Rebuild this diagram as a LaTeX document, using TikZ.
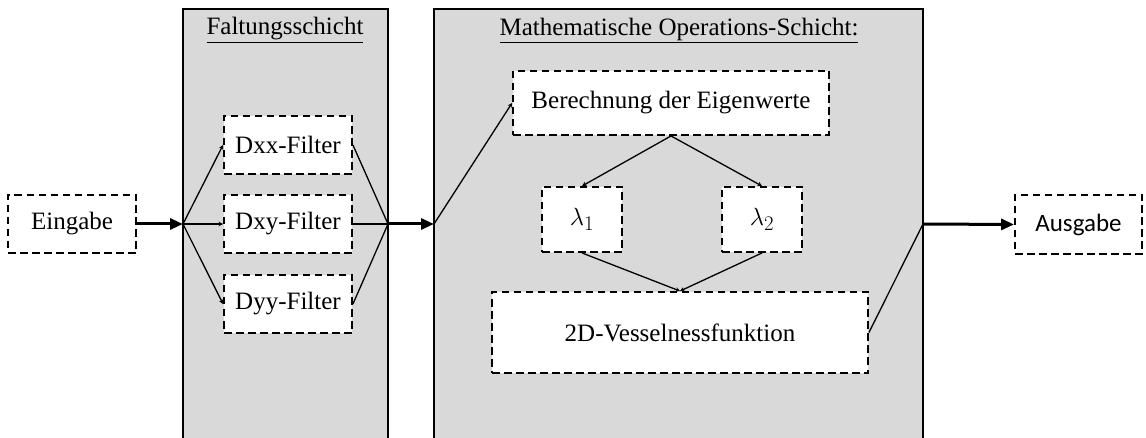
\documentclass[tikz,border=0pt]{standalone}
\usepackage{fontspec}
\setmainfont{Liberation Serif}
\newfontfamily\calfont{Carlito}
\usetikzlibrary{arrows.meta}
\definecolor{panelgray}{HTML}{D9D9D9}
\tikzset{
  panel/.style={draw=black, line width=2pt, fill=panelgray},
  dbox/.style={draw=black, line width=1.9pt, dash pattern=on 7.5pt off 4.5pt, fill=white, inner sep=0pt, font=\fontsize{25}{28}\selectfont},
  thickarrow/.style={line width=3pt, -{Triangle[length=13pt,width=11pt]}},
  thinarrow/.style={line width=1.3pt, -{Stealth[length=4.5pt,width=4.5pt]}},
  thinline/.style={line width=1.3pt},
  ptitle/.style={font=\fontsize{25}{28}\selectfont, inner sep=0pt}
}
\begin{document}
\begin{tikzpicture}[x=1pt,y=-1pt]
\useasboundingbox (0,0) rectangle (1146,438);
\clip (0,0) rectangle (1146,438);
% panels
\draw[panel] (183,9) rectangle (388,450);
\draw[panel] (434,9) rectangle (923,450);
\node[ptitle] (t1) at (285,30) {\underline{Faltungsschicht}};
\node[ptitle] (t2) at (679,30) {\underline{Mathematische Operations-Schicht:}};
% boxes
\node[dbox, minimum width=128pt, minimum height=58pt] (ein) at (72,224) {Eingabe};
\node[dbox, minimum width=128pt, minimum height=58pt] (dxx) at (288,145) {Dxx-Filter};
\node[dbox, minimum width=128pt, minimum height=58pt] (dxy) at (288,224) {Dxy-Filter};
\node[dbox, minimum width=128pt, minimum height=58pt] (dyy) at (288,304) {Dyy-Filter};
\node[dbox, minimum width=316pt, minimum height=64pt] (ber) at (671,103) {Berechnung der Eigenwerte};
\node[dbox, minimum width=80pt, minimum height=65pt] (l1) at (582,219.5) {\fontsize{28}{30}\selectfont$\lambda_1$};
\node[dbox, minimum width=80pt, minimum height=65pt] (l2) at (762,219.5) {\fontsize{28}{30}\selectfont$\lambda_2$};
\node[dbox, minimum width=376pt, minimum height=81pt] (ves) at (680,332.5) {2D-Vesselnessfunktion};
\node[dbox, minimum width=127pt, minimum height=59pt, font=\calfont\fontsize{25}{28}\selectfont] (aus) at (1078.5,224.5) {Ausgabe};
% junctions
\coordinate (jin) at (183,224);
\coordinate (jmid) at (388,224);
\coordinate (jm2) at (434,224);
\coordinate (jout) at (923,224);
% connectors
\draw[thickarrow] (ein.east) -- (jin);
\draw[thinarrow] (jin) -- (dxx.west);
\draw[thinarrow] (jin) -- (dxy.west);
\draw[thinarrow] (jin) -- (dyy.west);
\draw[thinline] (dxx.east) -- (jmid);
\draw[thinline] (dxy.east) -- (jmid);
\draw[thinline] (dyy.east) -- (jmid);
\draw[thickarrow] (jmid) -- (jm2);
\draw[thinarrow] (jm2) -- (ber.west);
\draw[thinarrow] (ber.south) -- (l1.north);
\draw[thinarrow] (ber.south) -- (l2.north);
\draw[thinarrow] (l1.south) -- (ves.north);
\draw[thinarrow] (l2.south) -- (ves.north);
\draw[thinline] (ves.east) -- (jout);
\draw[thickarrow] (jout) -- (aus.west);
\end{tikzpicture}
\end{document}
